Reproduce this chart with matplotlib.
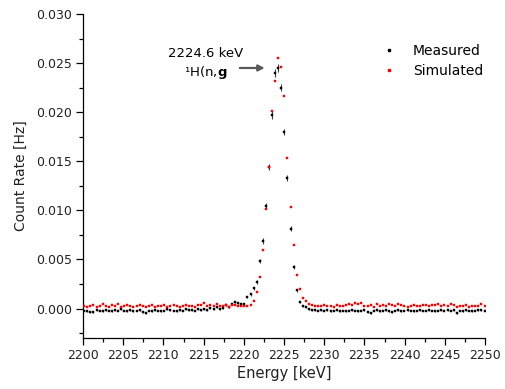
import numpy as np
import matplotlib
matplotlib.use("Agg")
import matplotlib.pyplot as plt
from matplotlib.ticker import MultipleLocator
from matplotlib.lines import Line2D

# bin centres (keV), 131 channels between 2200 and 2250
e_start = 2200.15
e_step = 0.383
n_bins = 131

measured = [
    -0.0002, -0.0003, -0.0004, -0.0004, -0.0001, -0.0002, -0.0003, -0.0001, -0.0002, -0.0003,
    -0.0001, -0.0002, 0.0000, -0.0002, -0.0003, -0.0001, -0.0003, -0.0002, -0.0001, -0.0004,
    -0.0005, -0.0002, -0.0003, -0.0001, -0.0002, -0.0003, -0.0002, 0.0000, -0.0001, -0.0002,
    -0.0003, -0.0001, -0.0002, 0.0000, -0.0001, -0.0001, -0.0002, 0.0000,
    -0.0001, 0.0000, -0.0001, 0.0001, 0.0000, 0.0002, 0.0000, 0.0001, 0.0004, 0.0002,
    0.0005, 0.0007, 0.0006,
    0.00046, 0.00046, 0.00117, 0.00145, 0.00206, 0.0027, 0.00484, 0.00688, 0.01044, 0.01444,
    0.01971, 0.02396, 0.02447, 0.02249, 0.01798, 0.01326, 0.00813, 0.0042, 0.00188, 0.00063,
    0.00025, 0.00012,
    0.0000, -0.0001, -0.0001, -0.0002, -0.0001, -0.0002, -0.0001, -0.0003, -0.0002, -0.0001,
    -0.0003, -0.0002, -0.0003, -0.0002, -0.0001, -0.0002, -0.0003, -0.0002, -0.0001, -0.0004,
    -0.0005, -0.0002, -0.0001, -0.0003, -0.0002, -0.0001, -0.0003, -0.0004, -0.0002, -0.0001,
    -0.0003, -0.0002, -0.0001, -0.0002, -0.0003, -0.0002, -0.0001, -0.0002, -0.0002, -0.0001,
    -0.0002, -0.0003, -0.0002, -0.0001, -0.0002, -0.0001, -0.0002, -0.0001, -0.0005, -0.0002,
    -0.0003, -0.0001, -0.0002, -0.0003, -0.0002, -0.0001, -0.0001, -0.0002,
]

measured_err = [
    0.0001, 0.0001, 0.0001, 0.0001, 0.0001, 0.0001, 0.0001, 0.0001, 0.0001, 0.0001,
    0.0001, 0.0001, 0.0001, 0.0001, 0.0001, 0.0001, 0.0001, 0.0001, 0.0001, 0.0001,
    0.0001, 0.0001, 0.0001, 0.0001, 0.0001, 0.0001, 0.0001, 0.0001, 0.0001, 0.0001,
    0.0001, 0.0001, 0.0001, 0.0001, 0.0001, 0.0001, 0.0001, 0.0001,
    0.0001, 0.0001, 0.0001, 0.0001, 0.0001, 0.0001, 0.0001, 0.0001, 0.0001, 0.0001,
    0.0001, 0.0001, 0.0001,
    0.0001, 0.0001, 0.00012, 0.00013, 0.00015, 0.00018, 0.00022, 0.00026, 0.0003, 0.00033,
    0.00036, 0.0004, 0.0004, 0.00038, 0.00035, 0.00031, 0.00026, 0.0002, 0.00015, 0.0001,
    0.0001, 0.0001,
    0.0001, 0.0001, 0.0001, 0.0001, 0.0001, 0.0001, 0.0001, 0.0001, 0.0001, 0.0001,
    0.0001, 0.0001, 0.0001, 0.0001, 0.0001, 0.0001, 0.0001, 0.0001, 0.0001, 0.0001,
    0.0001, 0.0001, 0.0001, 0.0001, 0.0001, 0.0001, 0.0001, 0.0001, 0.0001, 0.0001,
    0.0001, 0.0001, 0.0001, 0.0001, 0.0001, 0.0001, 0.0001, 0.0001, 0.0001, 0.0001,
    0.0001, 0.0001, 0.0001, 0.0001, 0.0001, 0.0001, 0.0001, 0.0001, 0.0001, 0.0001,
    0.0001, 0.0001, 0.0001, 0.0001, 0.0001, 0.0001, 0.0001, 0.0001,
]

simulated = [
    0.0003, 0.0002, 0.0003, 0.0004, 0.0002, 0.0003, 0.0005, 0.0003, 0.0002, 0.0004,
    0.0003, 0.0005, 0.0002, 0.0003, 0.0004, 0.0003, 0.0002, 0.0003, 0.0004, 0.0003,
    0.0002, 0.0003, 0.0004, 0.0002, 0.0003, 0.0003, 0.0004, 0.0002, 0.0003, 0.0004,
    0.0003, 0.0002, 0.0003, 0.0004, 0.0003, 0.0003, 0.0002, 0.0004, 0.0004, 0.0006,
    0.0003, 0.0004, 0.0003, 0.0005, 0.0003, 0.0003, 0.0004, 0.0002, 0.0004, 0.0004,
    0.0003,
    0.0003, 0.00025, 0.00025, 0.00036, 0.00076, 0.00168, 0.00324, 0.00593, 0.01017, 0.01441,
    0.02012, 0.02314, 0.02549, 0.02463, 0.02168, 0.0153, 0.01034, 0.00644, 0.00341, 0.00196,
    0.0011, 0.00076,
    0.0005, 0.0004, 0.0003, 0.0003, 0.0003, 0.0004, 0.0003, 0.0003, 0.0002, 0.0004,
    0.0003, 0.0003, 0.0004, 0.0005, 0.0004, 0.0006, 0.0005, 0.0006, 0.0003, 0.0003,
    0.0004, 0.0002, 0.0005, 0.0003, 0.0004, 0.0003, 0.0005, 0.0004, 0.0003, 0.0005,
    0.0004, 0.0003, 0.0002, 0.0003, 0.0004, 0.0003, 0.0003, 0.0004, 0.0004, 0.0003,
    0.0004, 0.0004, 0.0005, 0.0003, 0.0004, 0.0003, 0.0005, 0.0004, 0.0002, 0.0003,
    0.0003, 0.0004, 0.0002, 0.0003, 0.0003, 0.0003, 0.0005, 0.0003,
]

energy = e_start + e_step * np.arange(n_bins)

fig = plt.figure(figsize=(5.05, 3.89), dpi=100)
ax = fig.add_axes([0.1644, 0.1311, 0.796, 0.833])

ax.errorbar(energy, measured, yerr=measured_err, fmt='s', color='black',
            markersize=2.1, markeredgewidth=0.3, elinewidth=0.8, ecolor='0.25',
            capsize=0, zorder=2)
ax.plot(energy, simulated, 's', color='#ff0000', markersize=2.1,
        markeredgewidth=0.3, zorder=3)

ax.set_xlim(2200, 2250)
ax.set_ylim(-0.003, 0.030)
ax.xaxis.set_major_locator(MultipleLocator(5))
ax.xaxis.set_minor_locator(MultipleLocator(2.5))
ax.yaxis.set_major_locator(MultipleLocator(0.005))
ax.yaxis.set_minor_locator(MultipleLocator(0.0025))
ax.yaxis.set_major_formatter(plt.FormatStrFormatter('%.3f'))
ax.tick_params(which='major', direction='out', length=5, width=0.9, labelsize=9, pad=3,
               labelcolor='#222222')
ax.tick_params(which='minor', direction='out', length=3, width=0.9)
for side in ['top', 'right']:
    ax.spines[side].set_visible(False)
for side in ['left', 'bottom']:
    ax.spines[side].set_linewidth(0.9)

ax.set_xlabel('Energy [keV]', fontsize=10.5, labelpad=3, color='#222222')
ax.set_ylabel('Count Rate [Hz]', fontsize=10, labelpad=6, color='#222222')

# peak label
ax.text(2215.2, 0.0249, '2224.6 keV\n¹H(n,$\\mathbf{g}$', fontsize=9.5,
        ha='center', va='center', multialignment='center', linespacing=1.3)
ax.annotate('', xy=(2222.6, 0.0245), xytext=(2219.5, 0.0245),
            arrowprops=dict(arrowstyle='-|>', color='0.35', lw=1.6,
                            mutation_scale=9, shrinkA=0, shrinkB=0))

handles = [Line2D([], [], ls='none', marker='s', color='black', markersize=2.1),
           Line2D([], [], ls='none', marker='s', color='#ff0000', markersize=2.1)]
ax.legend(handles, ['Measured', 'Simulated'], loc='upper right',
          bbox_to_anchor=(1.027, 0.945), frameon=False, fontsize=10,
          labelspacing=0.4, handletextpad=1.0, handlelength=1.5)

fig.savefig('out.png', dpi=100)
